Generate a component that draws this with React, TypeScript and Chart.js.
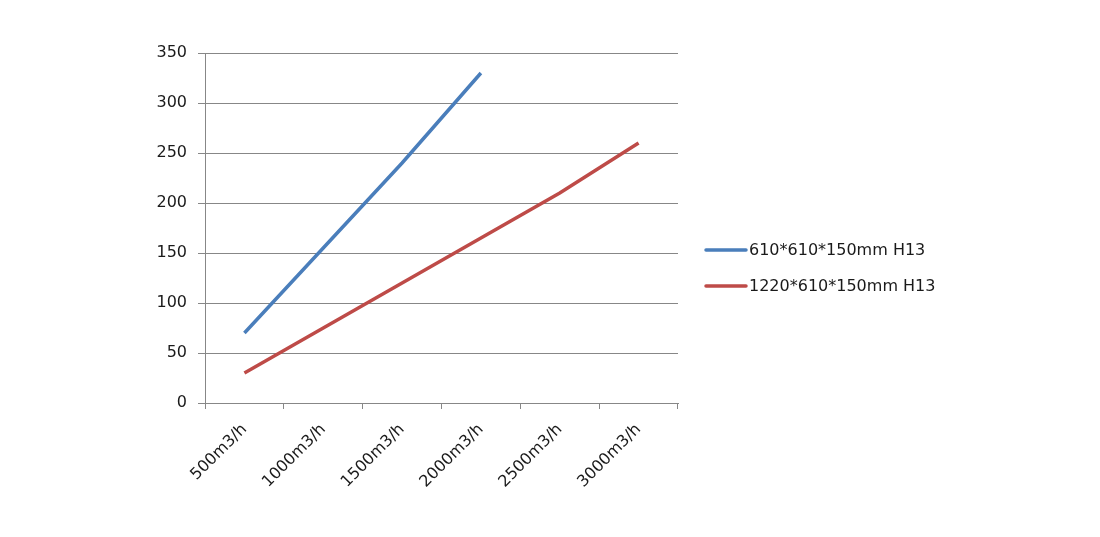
import React, { useEffect, useRef } from "react";
import { Chart, registerables } from "chart.js";

Chart.register(...registerables);

const categories = ["500m3/h", "1000m3/h", "1500m3/h", "2000m3/h", "2500m3/h", "3000m3/h"];
const seriesNames = ["610*610*150mm H13", "1220*610*150mm H13"];
const seriesA = [70, 155, 240, 330];
const seriesB = [30, 75, 120, 165, 210, 260];
const yTicks = { min: 0, max: 350, step: 50 };

const FONT = "'DejaVu Sans', sans-serif";
const GRID = "#878787";
const TEXT = "#1a1a1a";

const legendPlugin = {
  id: "sideLegend",
  afterDraw(chart: any) {
    const { ctx, chartArea } = chart;
    const x0 = chartArea.right + 28;
    const rows = [250, 286];
    ctx.save();
    ctx.font = `16px ${FONT}`;
    ctx.textBaseline = "middle";
    ctx.textAlign = "left";
    chart.data.datasets.forEach((ds: any, i: number) => {
      const y = rows[i];
      ctx.strokeStyle = ds.borderColor;
      ctx.lineWidth = ds.borderWidth;
      ctx.lineCap = "round";
      ctx.beginPath();
      ctx.moveTo(x0, y);
      ctx.lineTo(x0 + 40, y);
      ctx.stroke();
      ctx.fillStyle = TEXT;
      ctx.fillText(ds.label, x0 + 43, y + 1);
    });
    ctx.restore();
  },
};

export default function App() {
  const ref = useRef<HTMLCanvasElement>(null);
  useEffect(() => {
    if (!ref.current) return;
    const chart = new Chart(ref.current, {
      type: "line",
      data: {
        labels: categories,
        datasets: [
          {
            label: seriesNames[0],
            data: seriesA,
            borderColor: "#4a7ebb",
            backgroundColor: "#4a7ebb",
            borderWidth: 3.5,
            pointRadius: 0,
            tension: 0,
          },
          {
            label: seriesNames[1],
            data: seriesB,
            borderColor: "#be4b48",
            backgroundColor: "#be4b48",
            borderWidth: 3.5,
            pointRadius: 0,
            tension: 0,
          },
        ],
      },
      options: {
        animation: false,
        responsive: false,
        maintainAspectRatio: false,
        layout: { padding: { left: 0, right: 422, top: 53, bottom: 0 } },
        plugins: { legend: { display: false }, tooltip: { enabled: false } },
        scales: {
          x: {
            offset: true,
            grid: {
              offset: true,
              drawOnChartArea: false,
              drawTicks: true,
              tickLength: 6,
              color: GRID,
            },
            border: { color: GRID, width: 1 },
            ticks: {
              minRotation: 45,
              maxRotation: 45,
              padding: 11,
              color: TEXT,
              font: { family: FONT, size: 16 },
            },
            afterFit(scale: any) {
              scale.height = 134;
            },
          },
          y: {
            min: yTicks.min,
            max: yTicks.max,
            grid: { color: GRID, tickLength: 7, lineWidth: 1 },
            border: { color: GRID, width: 1 },
            ticks: {
              stepSize: yTicks.step,
              padding: 11,
              color: TEXT,
              font: { family: FONT, size: 16 },
            },
            afterFit(scale: any) {
              scale.width = 205;
            },
          },
        },
      },
      plugins: [legendPlugin],
    });
    return () => chart.destroy();
  }, []);
  return (
    <div style={{ position: "absolute", left: 0, top: 0, width: 1100, height: 537, background: "#fff" }}>
      <canvas ref={ref} width={1100} height={537} style={{ width: 1100, height: 537 }} />
    </div>
  );
}
